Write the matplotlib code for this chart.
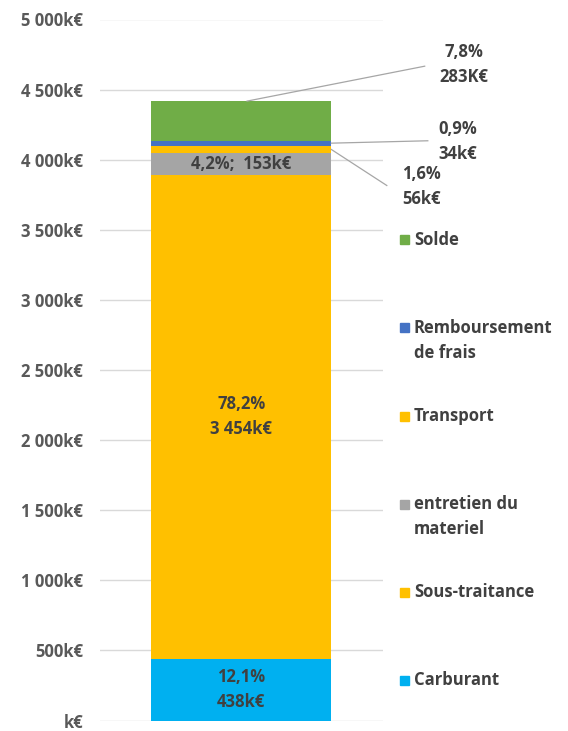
import matplotlib.pyplot as plt
from matplotlib.ticker import FuncFormatter
from matplotlib.patches import Rectangle

# Data (k EUR), bottom to top of the stacked bar
categories = ['Carburant', 'Sous-traitance', 'entretien du\nmateriel', 'Transport',
              'Remboursement\nde frais', 'Solde']
values = [438, 3454, 153, 56, 34, 283]
percents = ['12,1%', '78,2%', '4,2%', '1,6%', '0,9%', '7,8%']
value_labels = ['438k€', '3 454k€', '153k€', '56k€', '34k€', '283K€']
colors = ['#00B0F0', '#FFC000', '#A5A5A5', '#FFC000', '#4472C4', '#70AD47']
yticks = [0, 500, 1000, 1500, 2000, 2500, 3000, 3500, 4000, 4500, 5000]

text_color = '#404040'
tick_color = '#595959'
grid_color = '#D9D9D9'
line_color = '#A6A6A6'
fsize = 12
lsp = 1.5

plt.rcParams['font.family'] = ['Open Sans', 'DejaVu Sans']
plt.rcParams['font.weight'] = 'bold'

fig = plt.figure(figsize=(5.68, 7.31), dpi=100)
ax = fig.add_axes([0.176, 10.5 / 731, 0.498, (721 - 20) / 731])
ax.set_xlim(-0.5, 0.5)
ax.set_ylim(0, 5000)

bar_width = 0.636
bottom = 0
bottoms = []
for val, col in zip(values, colors):
    ax.bar(0, val, width=bar_width, bottom=bottom, color=col, zorder=3)
    bottoms.append(bottom)
    bottom += val
total = bottom

# Axis styling
for s in ax.spines.values():
    s.set_visible(False)
ax.set_xticks([])
ax.set_yticks(yticks)
ax.yaxis.set_major_formatter(FuncFormatter(
    lambda v, p: ('{:,.0f}'.format(v).replace(',', ' ') + 'k€') if v else 'k€'))
ax.tick_params(axis='y', length=0, pad=12, labelsize=fsize, labelcolor=tick_color)
for lab in ax.get_yticklabels():
    lab.set_fontweight('bold')
ax.grid(axis='y', color=grid_color, linewidth=1, zorder=0)

# Labels inside the bar
mid = [b + v / 2 for b, v in zip(bottoms, values)]
for i in (0, 1):
    ax.text(0, mid[i], percents[i] + '\n' + value_labels[i], ha='center', va='center',
            fontsize=fsize, color=text_color, linespacing=lsp, zorder=4)
ax.text(0, mid[2], percents[2] + ';  ' + value_labels[2], ha='center', va='center',
        fontsize=fsize, color=text_color, zorder=4)

# Labels outside with leader lines: (start x, end x, end y, text x, text y)
edge = bar_width / 2
callouts = {
    3: (edge, 0.514, 3816, 0.638, 3812),
    4: (edge, 0.659, 4135, 0.765, 4131),
    5: (0.02, 0.648, 4667, 0.786, 4677),
}
for i, (sx, ex, ey, tx, ty) in callouts.items():
    sy = total if i == 5 else mid[i]
    ax.plot([sx, ex], [sy, ey], color=line_color, linewidth=0.9, clip_on=False, zorder=4)
    ax.text(tx, ty, percents[i] + '\n' + value_labels[i], ha='center', va='center',
            fontsize=fsize, color=text_color, linespacing=lsp, clip_on=False)

# Legend, top entry first
leg_x = 400 / 568
leg_y0 = 731 - 240
leg_step = 88
for k, i in enumerate(reversed(range(len(categories)))):
    y = (leg_y0 - k * leg_step) / 731
    fig.patches.append(Rectangle((leg_x, y - 4.5 / 731), 9 / 568, 9 / 731,
                                 transform=fig.transFigure, color=colors[i]))
    fig.text(leg_x + 14 / 568, y + 9 / 731, categories[i], ha='left', va='top',
             fontsize=fsize, color=text_color, linespacing=lsp)

plt.savefig('out.png', dpi=100)
plt.close()
